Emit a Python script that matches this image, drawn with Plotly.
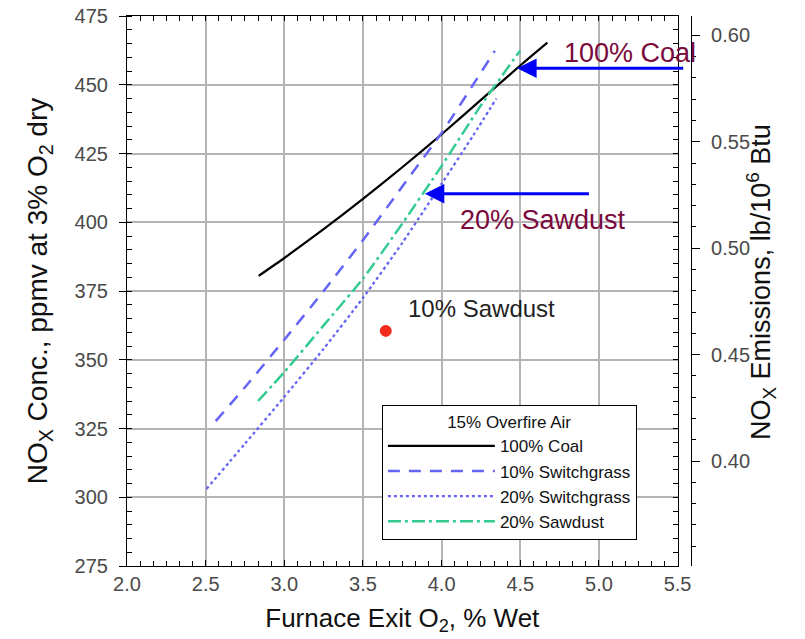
import plotly.graph_objects as go

# ---------------- data ----------------
coal_x = [2.837, 3.0, 3.25, 3.5, 3.75, 4.0, 4.25, 4.5, 4.672]
coal_y = [380.5, 387.0, 397.5, 408.5, 420.0, 432.0, 444.5, 457.0, 465.3]

sg10_x = [2.564, 2.75, 3.0, 3.25, 3.5, 3.75, 4.0, 4.2, 4.338]
sg10_y = [327.7, 340.0, 357.3, 375.0, 393.5, 413.0, 432.5, 450.0, 462.3]

sg20_x = [2.505, 2.75, 3.0, 3.25, 3.5, 3.75, 4.0, 4.2, 4.348]
sg20_y = [303.0, 319.5, 336.5, 354.0, 372.5, 392.5, 414.0, 431.5, 445.0]

sd20_x = [2.833, 3.0, 3.25, 3.5, 3.75, 4.0, 4.25, 4.5]
sd20_y = [335.0, 345.5, 362.5, 379.5, 399.5, 420.5, 442.5, 462.5]

sd10_x = [3.645]
sd10_y = [360.5]

series_names = ["100% Coal", "10% Switchgrass", "20% Switchgrass", "20% Sawdust"]

x_ticks = [2.0, 2.5, 3.0, 3.5, 4.0, 4.5, 5.0, 5.5]
y_ticks = [275, 300, 325, 350, 375, 400, 425, 450, 475]
y2_ticks = [0.40, 0.45, 0.50, 0.55, 0.60]

x_range = [2.0, 5.5]
y_range = [275, 475]
y2_range = [0.3507, 0.6091]

# arrow annotations: tip (on curve) and tail
coal_arrow = dict(tip=(4.48, 456.0), tail=(5.545, 456.0))
sd_arrow = dict(tip=(3.893, 410.4), tail=(4.946, 410.4))

# ---------------- styling ----------------
FONT = "Liberation Sans, Arial, Helvetica, sans-serif"
BLUE = "#6464f5"
GREEN = "#33cb90"
MAROON = "#7a0a3c"
GRID = "#b4b4b4"
TICKFONT = dict(family=FONT, size=20, color="#4a4a4a")

fig = go.Figure()

fig.add_trace(go.Scatter(x=coal_x, y=coal_y, mode="lines", name=series_names[0],
                         line=dict(color="black", width=2.2, shape="spline", smoothing=0.6)))
fig.add_trace(go.Scatter(x=sg10_x, y=sg10_y, mode="lines", name=series_names[1],
                         line=dict(color=BLUE, width=2.5, dash="12px,9px", shape="spline", smoothing=0.6)))
fig.add_trace(go.Scatter(x=sg20_x, y=sg20_y, mode="lines", name=series_names[2],
                         line=dict(color=BLUE, width=2.3, dash="3px,3px", shape="spline", smoothing=0.6)))
fig.add_trace(go.Scatter(x=sd20_x, y=sd20_y, mode="lines", name=series_names[3],
                         line=dict(color=GREEN, width=2.5, dash="13px,4px,3px,4px", shape="spline", smoothing=0.6)))
fig.add_trace(go.Scatter(x=sd10_x, y=sd10_y, mode="markers", showlegend=False,
                         marker=dict(color="#f32b1c", size=12)))

# empty traces so overlay axes are drawn
fig.add_trace(go.Scatter(x=[], y=[], xaxis="x2", yaxis="y", showlegend=False, hoverinfo="skip"))
fig.add_trace(go.Scatter(x=[], y=[], xaxis="x", yaxis="y3", showlegend=False, hoverinfo="skip"))
fig.add_trace(go.Scatter(x=[], y=[], xaxis="x", yaxis="y2", showlegend=False, hoverinfo="skip"))

L, R, T, B = 127, 114, 16, 73
W, H = 805, 639
plot_w = W - L - R
plot_h = H - T - B
xdom_end = 550.6 / plot_w


def px(xp):
    return (xp - L) / plot_w


def py(yp):
    return (H - B - yp) / plot_h


fig.update_layout(
    width=W, height=H,
    margin=dict(l=L, r=R, t=T, b=B, pad=0, autoexpand=False),
    paper_bgcolor="white", plot_bgcolor="white",
    font=dict(family=FONT, color="#111"),
    xaxis=dict(
        domain=[0, xdom_end], range=x_range, tickvals=x_ticks,
        ticktext=[f"{v:.1f}" for v in x_ticks],
        showgrid=True, gridcolor=GRID, gridwidth=1.6,
        showline=True, linecolor="black", linewidth=1.2,
        ticks="inside", ticklen=6, tickcolor="black", tickwidth=1.2,
        minor=dict(dtick=0.5 / 6, tick0=2.0, ticks="inside", ticklen=5,
                   tickcolor="black", tickwidth=1, showgrid=False),
        tickfont=TICKFONT, zeroline=False,
        title=dict(text="Furnace Exit O<sub>2</sub>, % Wet",
                   font=dict(family=FONT, size=26, color="#111"), standoff=14),
    ),
    xaxis2=dict(
        domain=[0, xdom_end], range=x_range, overlaying="x", side="top", anchor="y",
        tickvals=x_ticks, showticklabels=False, showgrid=False, zeroline=False,
        showline=True, linecolor="black", linewidth=1.2,
        ticks="inside", ticklen=5, tickcolor="black", tickwidth=1,
        minor=dict(dtick=0.5 / 6, tick0=2.0, ticks="inside", ticklen=5,
                   tickcolor="black", tickwidth=1, showgrid=False),
    ),
    yaxis=dict(
        domain=[0, 1], range=y_range, tickvals=y_ticks,
        showgrid=True, gridcolor=GRID, gridwidth=1.6,
        showline=True, linecolor="black", linewidth=1.2,
        ticks="outside", ticklen=7, tickcolor="black", tickwidth=1.2,
        minor=dict(dtick=5, tick0=275, ticks="inside", ticklen=5,
                   tickcolor="black", tickwidth=1, showgrid=False),
        tickfont=TICKFONT, zeroline=False, ticklabelstandoff=7,
        title=dict(text="NO<sub>X</sub> Conc., ppmv at 3% O<sub>2</sub> dry",
                   font=dict(family=FONT, size=28, color="#111"), standoff=18),
    ),
    yaxis3=dict(
        range=y_range, overlaying="y", side="right", anchor="x",
        tickvals=y_ticks, showticklabels=False, showgrid=False, zeroline=False,
        showline=True, linecolor="black", linewidth=1.2,
        ticks="inside", ticklen=5, tickcolor="black", tickwidth=1,
        minor=dict(dtick=5, tick0=275, ticks="inside", ticklen=5,
                   tickcolor="black", tickwidth=1, showgrid=False),
    ),
    yaxis2=dict(
        range=y2_range, overlaying="y", side="right", anchor="free", position=1.0,
        tickvals=y2_ticks, ticktext=[f"{v:.2f}" for v in y2_ticks],
        showgrid=False, zeroline=False,
        showline=True, linecolor="black", linewidth=1.2,
        ticks="outside", ticklen=8, tickcolor="black", tickwidth=1.2,
        minor=dict(dtick=0.01, tick0=0.40, ticks="outside", ticklen=4,
                   tickcolor="black", tickwidth=1, showgrid=False),
        tickfont=TICKFONT, ticklabelstandoff=7,
    ),
    legend=dict(
        x=px(381.7), y=py(405), xanchor="left", yanchor="top",
        bgcolor="white", bordercolor="black", borderwidth=1.2,
        font=dict(family=FONT, size=17, color="#111"),
        title=dict(text="15% Overfire Air", side="top center",
                   font=dict(family=FONT, size=17, color="#111")),
        itemwidth=107, tracegroupgap=0,
    ),
    showlegend=True,
)

# right axis title (placed as rotated text)
fig.add_annotation(text="NO<sub>X</sub> Emissions, lb/10<sup>6</sup> Btu",
                   xref="paper", yref="paper", x=px(761), y=py(282),
                   xanchor="center", yanchor="middle", textangle=-90, showarrow=False,
                   font=dict(family=FONT, size=27, color="#111"))

# text labels
fig.add_annotation(text="100% Coal", xref="paper", yref="paper", xanchor="center", yanchor="middle",
                   x=px(630), y=py(53), showarrow=False,
                   font=dict(family=FONT, size=27, color=MAROON))
fig.add_annotation(text="20% Sawdust", xref="paper", yref="paper", xanchor="center", yanchor="middle",
                   x=px(543), y=py(220), showarrow=False,
                   font=dict(family=FONT, size=27, color=MAROON))
fig.add_annotation(text="10% Sawdust", xref="paper", yref="paper", xanchor="center", yanchor="middle",
                   x=px(481), y=py(308), showarrow=False,
                   font=dict(family=FONT, size=24, color="#222"))

# arrows
for arr in (coal_arrow, sd_arrow):
    fig.add_annotation(x=arr["tip"][0], y=arr["tip"][1], xref="x", yref="y",
                       ax=arr["tail"][0], ay=arr["tail"][1], axref="x", ayref="y",
                       text="", showarrow=True, arrowhead=2, arrowsize=1.3,
                       arrowwidth=3, arrowcolor="#0000f5")

fig.write_html("out.html")
